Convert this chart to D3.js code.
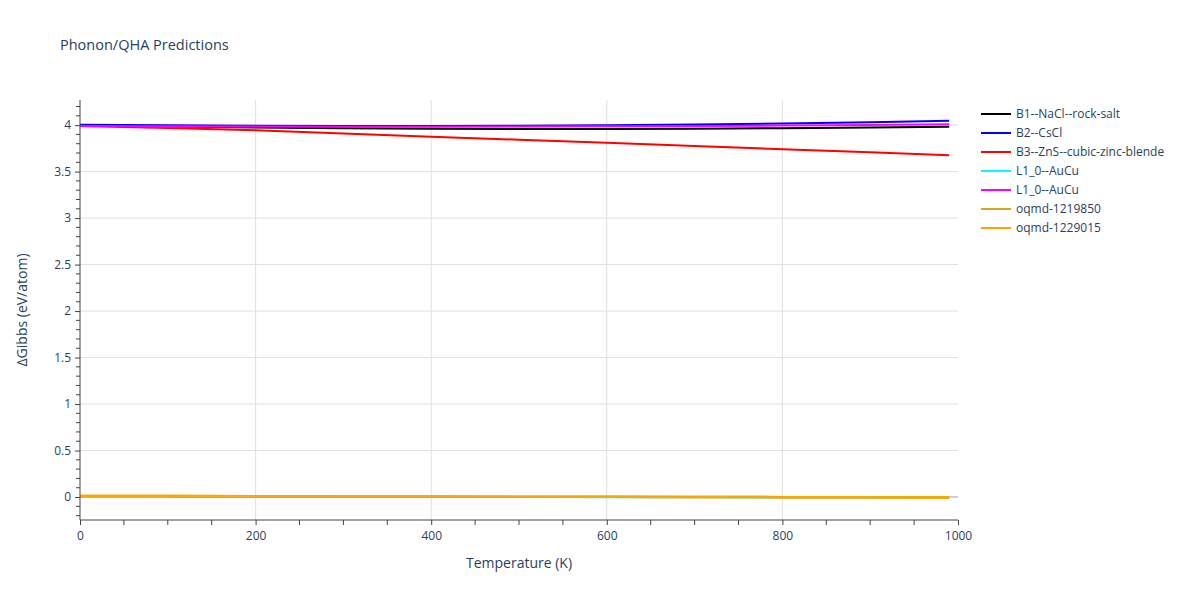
<!DOCTYPE html>
<html><head><meta charset="utf-8">
<script src="https://cdn.jsdelivr.net/npm/d3@7"></script>
<style>body{margin:0;background:#fff}svg{font-family:"Open Sans",sans-serif}</style>
</head><body><svg id="c" width="1200" height="600"></svg>
<script>
const temps = [0,100,200,300,400,500,600,700,800,900,990];
const seriesNames = ["B1--NaCl--rock-salt","B2--CsCl","B3--ZnS--cubic-zinc-blende","L1_0--AuCu","L1_0--AuCu","oqmd-1219850","oqmd-1229015"];
const seriesColors = ["black","blue","red","cyan","magenta","goldenrod","orange"];
const b1 = [4.0,3.985,3.975,3.967,3.962,3.958,3.958,3.962,3.967,3.975,3.983];
const b2 = [4.005,3.998,3.993,3.99,3.99,3.993,3.998,4.006,4.016,4.03,4.046];
const b3 = [3.99,3.968,3.945,3.91,3.875,3.843,3.81,3.775,3.74,3.708,3.677];
const l10a = [0.005,0.004,0.003,0.002,0.001,0.0,-0.001,-0.003,-0.004,-0.006,-0.007];
const l10b = [3.99,3.988,3.985,3.983,3.983,3.984,3.987,3.99,3.995,4.0,4.008];
const oq1 = [0.011,0.01,0.008,0.007,0.005,0.004,0.002,0.0,-0.001,-0.003,-0.004];
const oq2 = [0.012,0.01,0.009,0.007,0.006,0.004,0.003,0.001,-0.001,-0.002,-0.004];
const seriesValues = [b1,b2,b3,l10a,l10b,oq1,oq2];
const xTicks = [0,200,400,600,800,1000];
const yTicks = [0,0.5,1,1.5,2,2.5,3,3.5,4];

const svg = d3.select("#c");
const L=80,R=958,T=100,B=520;
const x = d3.scaleLinear().domain([0,1000]).range([L,R]);
const y = d3.scaleLinear().domain([-0.247,4.27]).range([B,T]);
const txt = "#2a3f5f";

// grid
svg.append("g").selectAll("line").data(xTicks.filter(d=>d>0 && d<1000)).join("line")
  .attr("x1",d=>x(d)).attr("x2",d=>x(d)).attr("y1",T).attr("y2",B).attr("stroke","#e0e0e0").attr("stroke-width",1);
svg.append("g").selectAll("line").data(yTicks.filter(d=>d!==0)).join("line")
  .attr("x1",L).attr("x2",R).attr("y1",d=>y(d)).attr("y2",d=>y(d)).attr("stroke","#e0e0e0").attr("stroke-width",1);
// zero line
svg.append("line").attr("x1",L).attr("x2",R).attr("y1",y(0)).attr("y2",y(0)).attr("stroke","#d0d0d0").attr("stroke-width",2);

// series
const line = d3.line().x((d,i)=>x(temps[i])).y(d=>y(d));
seriesValues.forEach((vals,k)=>{
  svg.append("path").datum(vals).attr("d",line).attr("fill","none")
    .attr("stroke",seriesColors[k]).attr("stroke-width",k>=5?2.5:2);
});

// axes
const xAxis = d3.axisBottom(x).tickValues(xTicks).tickSize(5).tickPadding(6).tickFormat(d3.format("d"));
const gx = svg.append("g").attr("transform",`translate(0,${B})`).call(xAxis);
const xMinor = d3.range(0,1001,50).filter(d=>d%200!==0);
gx.selectAll(".minor").data(xMinor).join("line").attr("class","minor")
  .attr("x1",d=>x(d)).attr("x2",d=>x(d)).attr("y1",0).attr("y2",5).attr("stroke","#444");
const yAxis = d3.axisLeft(y).tickValues(yTicks).tickSize(5).tickPadding(4).tickFormat(d3.format("~g"));
const gy = svg.append("g").attr("transform",`translate(${L},0)`).call(yAxis);
const yMinor = d3.range(-2,43).map(d=>d/10).filter(d=>Math.abs(d*2-Math.round(d*2))>1e-6);
gy.selectAll(".minor").data(yMinor).join("line").attr("class","minor")
  .attr("x1",-4).attr("x2",0).attr("y1",d=>y(d)).attr("y2",d=>y(d)).attr("stroke","#444");
[gx,gy].forEach(g=>{
  g.select(".domain").attr("stroke","#444");
  g.selectAll(".tick line").attr("stroke","#444");
  g.selectAll("text").attr("fill",txt).style("font-size","12px").style("font-family","'Open Sans',sans-serif");
});
gx.select(".domain").attr("d",`M${L},0H${R}`);
gy.select(".domain").attr("d",`M0,${T}V${B}`);

// titles
svg.append("text").attr("x",60).attr("y",50).attr("fill",txt).style("font-size","14.5px").text("Phonon/QHA Predictions");
svg.append("text").attr("x",(L+R)/2).attr("y",568).attr("text-anchor","middle").attr("fill",txt).style("font-size","14px").text("Temperature (K)");
svg.append("text").attr("transform",`translate(27,${(T+B)/2}) rotate(-90)`).attr("text-anchor","middle").attr("fill",txt).style("font-size","14px").text("ΔGibbs (eV/atom)");

// legend
const lg = svg.append("g");
seriesNames.forEach((n,k)=>{
  const yy = 114 + k*19;
  lg.append("line").attr("x1",981).attr("x2",1011).attr("y1",yy).attr("y2",yy).attr("stroke",seriesColors[k]).attr("stroke-width",2);
  lg.append("text").attr("x",1016).attr("y",yy+4).attr("fill",txt).style("font-size","12px").text(n);
});
</script></body></html>
